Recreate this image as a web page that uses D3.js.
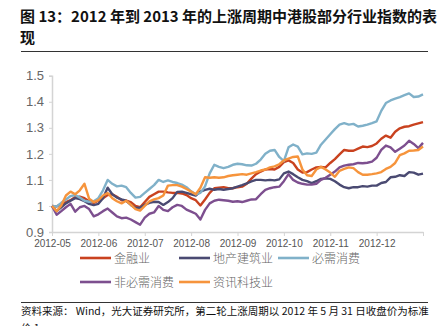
<!DOCTYPE html>
<html><head><meta charset="utf-8">
<script src="https://cdn.jsdelivr.net/npm/d3@7"></script>
<style>
html,body{margin:0;padding:0;background:#fff;}
svg{display:block;}
</style></head>
<body>
<svg id="chart" width="447" height="326"></svg>
<script>
// ---- data ----
const monthLabels = ["2012-05","2012-06","2012-07","2012-08","2012-09","2012-10","2012-11","2012-12"];
const monthTickIdx = [0,10,20,30,40,50,60,70,80];
const yTickValues = [0.9,1.0,1.1,1.2,1.3,1.4,1.5];
const yTickLabels = ["0.9","1","1.1","1.2","1.3","1.4","1.5"];
const seriesNames = ["金融业","地产建筑业","必需消费","非必需消费","资讯科技业"];

const finance = [1.000,0.998,1.008,1.015,1.022,1.034,1.036,1.030,1.018,1.012,
1.020,1.030,1.042,1.045,1.035,1.022,1.020,1.015,1.000,0.995,
1.015,1.035,1.045,1.055,1.055,1.052,1.050,1.050,1.048,1.042,
1.030,1.022,1.002,1.025,1.050,1.068,1.070,1.072,1.068,1.068,
1.072,1.074,1.085,1.105,1.122,1.132,1.140,1.142,1.140,1.150,
1.168,1.175,1.165,1.140,1.128,1.130,1.140,1.148,1.150,1.148,
1.165,1.180,1.198,1.215,1.212,1.212,1.220,1.228,1.226,1.230,
1.240,1.258,1.270,1.262,1.285,1.298,1.304,1.306,1.312,1.317,1.322];

const property = [1.000,0.980,0.995,1.010,1.020,1.030,1.026,1.018,1.008,1.003,
1.008,1.030,1.070,1.045,1.032,1.025,1.020,1.004,0.992,0.994,
1.004,1.012,1.016,1.015,1.004,1.015,1.030,1.054,1.055,1.050,
1.045,1.040,1.055,1.062,1.066,1.062,1.065,1.062,1.065,1.068,
1.074,1.080,1.087,1.094,1.100,1.100,1.098,1.100,1.098,1.102,
1.125,1.132,1.122,1.110,1.100,1.095,1.088,1.095,1.104,1.106,
1.104,1.095,1.082,1.072,1.068,1.072,1.072,1.076,1.074,1.078,
1.078,1.088,1.092,1.110,1.112,1.118,1.115,1.130,1.128,1.120,1.124];

const staples = [1.000,0.998,1.012,1.025,1.038,1.042,1.032,1.020,1.016,1.018,
1.030,1.060,1.100,1.085,1.075,1.078,1.072,1.050,1.032,1.035,
1.050,1.065,1.080,1.100,1.092,1.098,1.092,1.088,1.082,1.072,
1.056,1.045,1.050,1.075,1.125,1.158,1.150,1.145,1.150,1.158,
1.162,1.160,1.156,1.155,1.162,1.178,1.200,1.212,1.215,1.188,
1.172,1.225,1.236,1.228,1.198,1.202,1.200,1.205,1.235,1.255,
1.275,1.295,1.312,1.318,1.312,1.315,1.305,1.308,1.312,1.318,
1.325,1.365,1.395,1.405,1.412,1.418,1.425,1.432,1.418,1.420,1.428];

const discretionary = [1.000,0.966,0.980,0.995,1.008,0.978,0.995,1.000,0.988,0.960,
0.968,0.980,0.990,0.975,0.960,0.953,0.955,0.948,0.938,0.928,
0.955,0.970,0.975,1.000,0.985,0.980,0.995,1.004,1.000,0.986,
0.978,0.970,0.948,0.985,1.010,1.020,1.024,1.022,1.020,1.016,
1.018,1.015,1.020,1.025,1.026,1.045,1.062,1.068,1.072,1.074,
1.095,1.122,1.100,1.090,1.085,1.082,1.082,1.085,1.100,1.108,
1.120,1.132,1.148,1.155,1.158,1.160,1.165,1.164,1.166,1.170,
1.185,1.215,1.232,1.225,1.208,1.220,1.232,1.250,1.238,1.222,1.242];

const tech = [1.000,0.980,1.002,1.040,1.055,1.045,1.060,1.085,1.028,1.015,
1.022,1.040,1.050,1.030,1.018,1.010,1.020,1.005,0.988,0.982,
1.000,1.018,1.025,1.030,1.040,1.078,1.080,1.080,1.074,1.065,
1.055,1.045,1.070,1.110,1.108,1.110,1.108,1.110,1.115,1.118,
1.120,1.122,1.120,1.125,1.130,1.136,1.140,1.148,1.152,1.160,
1.175,1.182,1.188,1.190,1.140,1.118,1.115,1.140,1.150,1.140,
1.128,1.112,1.135,1.142,1.148,1.145,1.130,1.120,1.120,1.122,
1.125,1.130,1.142,1.150,1.165,1.195,1.202,1.212,1.213,1.215,1.228];

const seriesColors = ["#c9421f","#4a4a72","#80b1c9","#7d4f8f","#f6943c"];
const seriesData = [finance, property, staples, discretionary, tech];

// ---- chart ----
const svg = d3.select("#chart");
const CJK = "'Noto Sans CJK SC','Noto Sans',sans-serif";
const LAT = "'Liberation Sans',Arial,sans-serif";

// title
const title = svg.append("text").attr("font-family", CJK).attr("font-weight", 700)
  .attr("font-size", 15).attr("fill", "#111");
title.append("tspan").attr("x", 20).attr("y", 22).text("图 13：2012 年到 2013 年的上涨周期中港股部分行业指数的表");
title.append("tspan").attr("x", 20).attr("y", 43).text("现");
svg.append("line").attr("x1", 21).attr("x2", 428).attr("y1", 51.5).attr("y2", 51.5)
  .attr("stroke", "#333").attr("stroke-width", 1);

const x = d3.scaleLinear().domain([0, 80]).range([52, 423]);
const y = d3.scaleLinear().domain([0.9, 1.5]).range([232, 75.7]);

// y axis
const yAxis = d3.axisLeft(y).tickValues(yTickValues)
  .tickFormat((d, i) => yTickLabels[i]).tickSize(3).tickPadding(5);
const gy = svg.append("g").attr("transform", "translate(52,0)").call(yAxis);
gy.select(".domain").attr("stroke", "#d4d4d4").attr("stroke-width", 1.5);
gy.selectAll(".tick line").attr("stroke", "#d4d4d4");
gy.selectAll(".tick text").attr("font-family", LAT).attr("font-size", 13).attr("fill", "#666");

// x axis
const xAxis = d3.axisBottom(x).tickValues(monthTickIdx)
  .tickFormat((d, i) => monthLabels[i] || "").tickSize(4).tickSizeOuter(0).tickPadding(4);
const gx = svg.append("g").attr("transform", "translate(0,232)").call(xAxis);
gx.select(".domain").attr("stroke", "#d4d4d4").attr("stroke-width", 1.5);
gx.selectAll(".tick line").attr("stroke", "#d4d4d4");
gx.selectAll(".tick text").attr("font-family", LAT).attr("font-size", 10).attr("fill", "#555");

// lines
const line = d3.line().x((d, i) => x(i)).y(d => y(d));
svg.append("g").selectAll("path").data(seriesData).join("path")
  .attr("d", line).attr("fill", "none")
  .attr("stroke", (d, i) => seriesColors[i]).attr("stroke-width", 2.4)
  .attr("stroke-linejoin", "round");

// legend
const legendPos = [[80,258],[179,258],[278,258],[80,282],[179,282]];
const lg = svg.append("g").selectAll("g").data(seriesNames).join("g")
  .attr("transform", (d, i) => `translate(${legendPos[i][0]},${legendPos[i][1]})`);
lg.append("line").attr("x1", 0).attr("x2", 31).attr("y1", 0).attr("y2", 0)
  .attr("stroke", (d, i) => seriesColors[i]).attr("stroke-width", 2.6);
lg.append("text").attr("x", 34).attr("y", 4.5).attr("font-family", CJK).attr("font-size", 12)
  .attr("font-weight", 300).attr("fill", "#666").text(d => d);

// source
svg.append("line").attr("x1", 21).attr("x2", 428).attr("y1", 302.5).attr("y2", 302.5)
  .attr("stroke", "#333").attr("stroke-width", 1);
const src = svg.append("text").attr("font-family", CJK).attr("font-size", 10.5).attr("fill", "#111");
src.append("tspan").attr("x", 21).attr("y", 315).text("资料来源：  Wind，光大证券研究所，第二轮上涨周期以 2012 年 5 月 31 日收盘价为标准");
src.append("tspan").attr("x", 21).attr("y", 332).text("价 1");
</script>
</body></html>
